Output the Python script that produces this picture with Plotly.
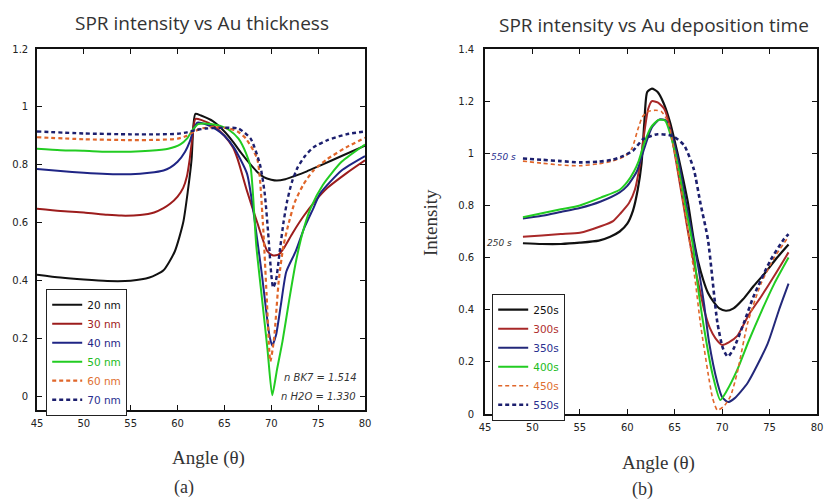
import plotly.graph_objects as go

# ---------------- Data: panel (a) SPR intensity vs Au thickness ----------------
thk_20_x = [45, 47.5, 50, 52.5, 55, 57, 58.5, 59.7, 60.6, 61.1, 61.5, 61.7, 61.9, 62.5, 63.8, 65, 65.9, 66.8, 67.8, 68.5, 69.2, 70, 70.6, 71.5, 72.4, 73.8, 75.2, 77.5, 80]
thk_20_y = [0.42, 0.41, 0.403, 0.398, 0.399, 0.41, 0.435, 0.5, 0.6, 0.71, 0.82, 0.94, 0.976, 0.97, 0.95, 0.915, 0.88, 0.84, 0.80, 0.775, 0.757, 0.748, 0.745, 0.75, 0.76, 0.777, 0.797, 0.83, 0.866]

thk_30_x = [45, 47.5, 50, 52.5, 54, 56, 57.5, 58.5, 59.2, 60, 60.6, 61, 61.3, 61.6, 61.9, 62.5, 63.8, 65, 65.9, 66.4, 67.4, 68.5, 69.6, 70.2, 70.8, 71.3, 72.3, 73.4, 74.7, 76, 78, 80]
thk_30_y = [0.648, 0.64, 0.635, 0.627, 0.624, 0.626, 0.635, 0.65, 0.665, 0.69, 0.72, 0.76, 0.82, 0.9, 0.958, 0.955, 0.935, 0.9, 0.86, 0.82, 0.71, 0.6, 0.5, 0.486, 0.49, 0.51, 0.565, 0.62, 0.675, 0.72, 0.77, 0.815]

thk_40_x = [45, 47.5, 50, 52.5, 55, 57, 58.5, 59.2, 60, 60.8, 61.3, 61.7, 62.1, 63, 64, 65, 66, 67.4, 68, 68.5, 69, 69.4, 69.8, 70.1, 70.5, 71, 71.6, 72.6, 73.5, 74.5, 75.2, 77.5, 80]
thk_40_y = [0.785, 0.778, 0.772, 0.768, 0.767, 0.772, 0.78, 0.79, 0.81, 0.845, 0.88, 0.92, 0.945, 0.94, 0.925, 0.9, 0.86, 0.77, 0.66, 0.54, 0.42, 0.31, 0.21, 0.175, 0.21, 0.31, 0.43, 0.5, 0.58, 0.65, 0.7, 0.78, 0.83]

thk_50_x = [45, 47.5, 50, 52.5, 55, 57, 59, 60.3, 61, 61.6, 62.2, 63.2, 64.5, 65.5, 66.5, 67.3, 67.8, 68.4, 69, 69.6, 70.1, 70.6, 71.2, 71.9, 72.6, 73.3, 74.2, 75.5, 77.5, 80]
thk_50_y = [0.855, 0.85, 0.848, 0.845, 0.845, 0.848, 0.855, 0.87, 0.89, 0.92, 0.94, 0.942, 0.935, 0.92, 0.89, 0.84, 0.79, 0.52, 0.34, 0.16, 0.003, 0.09, 0.19, 0.33, 0.46, 0.56, 0.65, 0.73, 0.81, 0.87]

thk_60_x = [45, 50, 55, 58, 60, 61, 61.8, 62.5, 64, 65.5, 66.4, 67.3, 68.5, 69.1, 69.5, 69.9, 70.3, 70.8, 71.3, 71.8, 72.5, 73.4, 74.5, 76, 78, 80]
thk_60_y = [0.895, 0.888, 0.885, 0.886, 0.89, 0.9, 0.915, 0.925, 0.93, 0.925, 0.915, 0.89, 0.82, 0.6, 0.35, 0.12, 0.2, 0.4, 0.52, 0.59, 0.67, 0.73, 0.78, 0.82, 0.86, 0.893]

thk_70_x = [45, 50, 55, 58, 60, 61, 62, 63, 65, 66.5, 67.8, 68.8, 69.3, 69.7, 70.0, 70.2, 70.5, 70.9, 71.3, 71.7, 72.2, 72.8, 73.6, 74.5, 76, 78, 80]
thk_70_y = [0.915, 0.908, 0.905, 0.905, 0.907, 0.912, 0.92, 0.925, 0.928, 0.925, 0.89, 0.80, 0.70, 0.55, 0.42, 0.375, 0.40, 0.5, 0.6, 0.675, 0.74, 0.79, 0.83, 0.86, 0.885, 0.905, 0.915]

# ---------------- Data: panel (b) SPR intensity vs Au deposition time ----------------
t250_x = [49, 51, 53, 55, 57, 58.2, 59.2, 60, 60.6, 61.1, 61.5, 61.8, 62.1, 62.6, 63.2, 63.8, 64.5, 65.3, 65.9, 66.4, 67.0, 67.5, 68.0, 68.5, 69.1, 69.7, 70.4, 71.2, 72.2, 73.3, 74.5, 75.8, 77]
t250_y = [0.655, 0.652, 0.652, 0.657, 0.665, 0.68, 0.7, 0.73, 0.78, 0.86, 0.96, 1.12, 1.235, 1.248, 1.235, 1.195, 1.12, 1.0, 0.9, 0.81, 0.67, 0.58, 0.515, 0.465, 0.43, 0.405, 0.396, 0.405, 0.44, 0.49, 0.54, 0.6, 0.65]

t300_x = [49, 51, 53, 55, 57.2, 58.5, 59.3, 60.2, 60.8, 61.3, 61.8, 62.2, 62.6, 63.2, 63.9, 64.5, 65.0, 65.7, 66.3, 66.9, 67.5, 68.1, 68.7, 69.3, 70.0, 70.7, 71.6, 72.8, 74.1, 75.5, 77]
t300_y = [0.68, 0.685, 0.69, 0.695, 0.72, 0.74, 0.77, 0.81, 0.86, 0.95, 1.08, 1.17, 1.2, 1.195, 1.17, 1.1, 1.0, 0.85, 0.72, 0.6, 0.5, 0.4, 0.33, 0.29, 0.265, 0.275, 0.30, 0.38, 0.45, 0.53, 0.62]

t350_x = [49, 51, 53, 55, 57.2, 59.2, 60, 61, 61.8, 62.6, 63.4, 64.1, 64.7, 65.4, 66.2, 67.0, 67.5, 68.1, 68.6, 69.5, 70.0, 70.6, 71.3, 72.7, 74.8, 76, 77]
t350_y = [0.75, 0.76, 0.775, 0.79, 0.815, 0.85, 0.875, 0.93, 1.02, 1.1, 1.13, 1.125, 1.07, 0.97, 0.81, 0.66, 0.56, 0.42, 0.28, 0.12, 0.065, 0.046, 0.06, 0.12, 0.27, 0.4, 0.5]

t400_x = [49, 51, 53, 55, 57.2, 59.2, 60, 60.7, 61.2, 61.8, 62.5, 63.3, 64, 64.6, 65.3, 66.1, 66.9, 67.4, 68.0, 69.0, 69.8, 70.5, 71.6, 72.8, 74.1, 75.5, 77]
t400_y = [0.755, 0.77, 0.785, 0.80, 0.83, 0.86, 0.89, 0.93, 0.97, 1.04, 1.1, 1.128, 1.125, 1.065, 0.96, 0.8, 0.65, 0.5, 0.35, 0.15, 0.054, 0.09, 0.17, 0.28, 0.39, 0.5, 0.6]

t450_x = [49, 51, 53, 55, 57, 58.4, 59.8, 60.5, 61.1, 61.6, 62.2, 63, 63.6, 64.3, 64.9, 65.5, 66.1, 66.7, 67.2, 67.7, 68.5, 69.0, 69.5, 70.2, 70.9, 71.6, 72.7, 74.1, 75.5, 77]
t450_y = [0.97, 0.962, 0.955, 0.952, 0.96, 0.97, 0.99, 1.02, 1.09, 1.14, 1.16, 1.165, 1.16, 1.12, 1.02, 0.9, 0.77, 0.63, 0.5, 0.35, 0.16, 0.06, 0.015, 0.03, 0.07, 0.16, 0.35, 0.5, 0.6, 0.68]

t550_x = [49, 51, 53, 55, 57, 58.4, 59.6, 60.6, 61.7, 63.2, 64.8, 66.0, 67.0, 67.7, 68.5, 69.5, 70.1, 70.6, 71.2, 72.3, 73.3, 75.1, 76.5, 77]
t550_y = [0.98, 0.975, 0.97, 0.965, 0.968, 0.975, 0.99, 1.01, 1.055, 1.073, 1.066, 1.03, 0.94, 0.81, 0.67, 0.35, 0.25, 0.22, 0.25, 0.35, 0.45, 0.59, 0.67, 0.69]

thk_names = ["20 nm", "30 nm", "40 nm", "50 nm", "60 nm", "70 nm"]
time_names = ["250s", "300s", "350s", "400s", "450s", "550s"]
x_ticks = [45, 50, 55, 60, 65, 70, 75, 80]

W, H = 824, 499

def fx(px):
    return px / W

def fy(py):
    return (H - py) / H

fig = go.Figure()

left_series = [
    (thk_20_x, thk_20_y, "#111111", "#111111", "solid", 2.0),
    (thk_30_x, thk_30_y, "#9c1c1c", "#a02020", "solid", 2.0),
    (thk_40_x, thk_40_y, "#1f2585", "#1f2585", "solid", 2.0),
    (thk_50_x, thk_50_y, "#22cc22", "#22bb22", "solid", 2.0),
    (thk_60_x, thk_60_y, "#e0662a", "#e07030", "4px,3px", 2.2),
    (thk_70_x, thk_70_y, "#1c1f6e", "#2a2f90", "4px,3px", 2.4),
]
for (xs, ys, col, tcol, dash, w), nm in zip(left_series, thk_names):
    fig.add_trace(go.Scatter(
        x=xs, y=ys, mode="lines", xaxis="x", yaxis="y",
        line=dict(color=col, width=w, dash=dash, shape="spline", smoothing=0.6),
        name=f"<span style='color:{tcol}'>{nm}</span>", legend="legend",
    ))

right_series = [
    (t250_x, t250_y, "#111111", "#111111", "solid", 2.2),
    (t300_x, t300_y, "#a82828", "#b03030", "solid", 2.0),
    (t350_x, t350_y, "#23287a", "#2a2f90", "solid", 2.0),
    (t400_x, t400_y, "#22cc22", "#22bb22", "solid", 2.0),
    (t450_x, t450_y, "#e0662a", "#e07030", "4px,3px", 1.6),
    (t550_x, t550_y, "#1c1f6e", "#2a2f90", "4px,3px", 2.6),
]
for (xs, ys, col, tcol, dash, w), nm in zip(right_series, time_names):
    fig.add_trace(go.Scatter(
        x=xs, y=ys, mode="lines", xaxis="x2", yaxis="y2",
        line=dict(color=col, width=w, dash=dash, shape="spline", smoothing=0.6),
        name=f"<span style='color:{tcol}'>{nm}</span>", legend="legend2",
    ))

tickfont = dict(family="DejaVu Sans", size=10, color="#222222")
axis_common = dict(
    showline=True, linecolor="#111111", linewidth=1.6, mirror="ticks",
    ticks="inside", ticklen=5, tickwidth=1.4, tickcolor="#111111",
    showgrid=False, zeroline=False, tickfont=tickfont, automargin=False,
)

fig.update_layout(
    width=W, height=H,
    margin=dict(l=0, r=0, t=0, b=0, autoexpand=False),
    paper_bgcolor="white", plot_bgcolor="white",
    xaxis=dict(domain=[fx(37), fx(365)], range=[45, 80], tickvals=x_ticks,
               anchor="y", ticklabelstandoff=3, **axis_common),
    yaxis=dict(domain=[fy(410), fy(49)], range=[-0.048, 1.2], dtick=0.2,
               tick0=0, anchor="x", ticklabelstandoff=5, **axis_common),
    xaxis2=dict(domain=[fx(485), fx(817)], range=[45, 80], tickvals=x_ticks,
                anchor="y2", ticklabelstandoff=3, **axis_common),
    yaxis2=dict(domain=[fy(414), fy(49)], range=[0, 1.4], dtick=0.2,
                tick0=0, anchor="x2", ticklabelstandoff=7, **axis_common),
    legend=dict(x=fx(46), y=fy(289), xanchor="left", yanchor="top",
                bgcolor="white", bordercolor="#222222", borderwidth=1.2,
                font=dict(family="DejaVu Sans", size=10.5), tracegroupgap=0,
                itemwidth=30),
    legend2=dict(x=fx(492), y=fy(294), xanchor="left", yanchor="top",
                 bgcolor="white", bordercolor="#222222", borderwidth=1.2,
                 font=dict(family="DejaVu Sans", size=10.5), tracegroupgap=0,
                 itemwidth=30),
    showlegend=True,
)

title_font = dict(family="Open Sans", size=19, color="#333333")
serif = dict(family="Liberation Serif", size=19, color="#333333")
ann = [
    dict(text="SPR intensity vs Au thickness", x=fx(202), y=fy(23), font=title_font),
    dict(text="SPR intensity vs Au deposition time", x=fx(654), y=fy(25), font=title_font),
    dict(text="Angle (θ)", x=fx(208), y=fy(458), font=serif),
    dict(text="(a)", x=fx(184), y=fy(487), font=dict(family="Liberation Serif", size=18, color="#333333")),
    dict(text="Angle (θ)", x=fx(658), y=fy(463), font=serif),
    dict(text="(b)", x=fx(642), y=fy(489), font=dict(family="Liberation Serif", size=18, color="#333333")),
    dict(text="Intensity", x=fx(430), y=fy(223), textangle=-90,
         font=dict(family="Liberation Serif", size=19, color="#333333")),
    dict(text="<i>n BK7 = 1.514</i>", x=fx(320), y=fy(377),
         font=dict(family="DejaVu Sans", size=10, color="#333333")),
    dict(text="<i>n H2O = 1.330</i>", x=fx(318), y=fy(396),
         font=dict(family="DejaVu Sans", size=10, color="#333333")),
    dict(text="<i>550 s</i>", x=fx(504), y=fy(157),
         font=dict(family="DejaVu Sans", size=9, color="#2a2f90")),
    dict(text="<i>250 s</i>", x=fx(499), y=fy(243),
         font=dict(family="DejaVu Sans", size=9, color="#333333")),
]
for a in ann:
    a.update(xref="paper", yref="paper", showarrow=False, xanchor="center", yanchor="middle")
    fig.add_annotation(**a)

fig.write_html("out.html", config={"displayModeBar": False},
               post_script="document.body.style.margin='0';")
